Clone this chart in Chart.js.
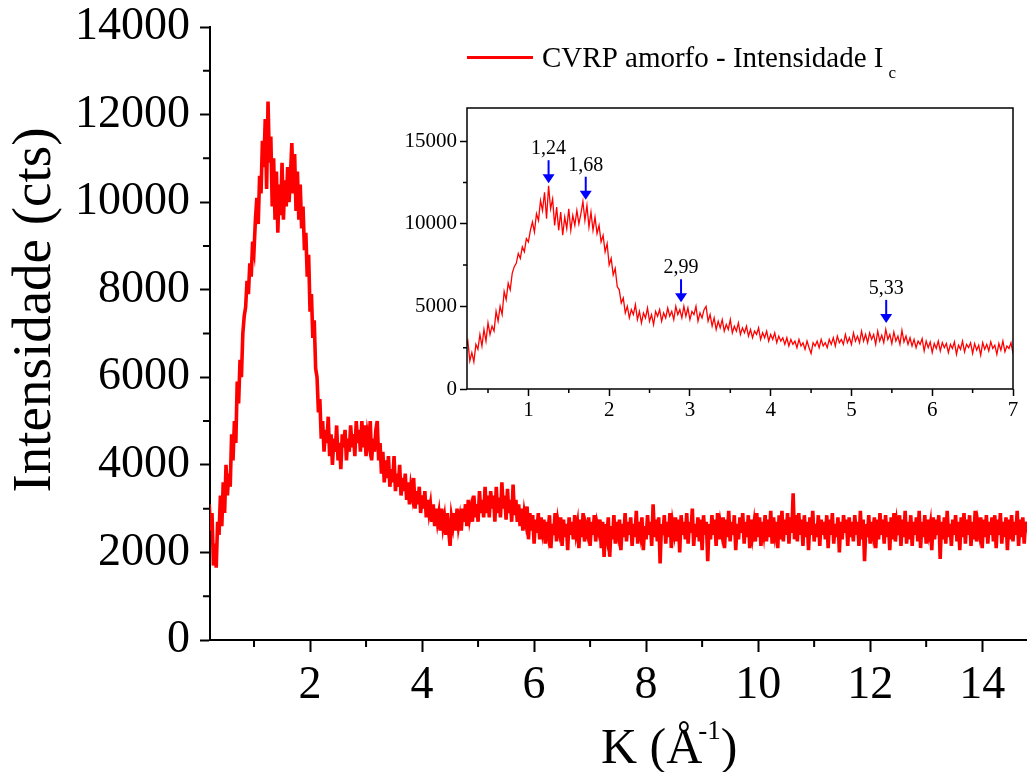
<!DOCTYPE html>
<html>
<head>
<meta charset="utf-8">
<title>CVRP amorfo - Intensidade Ic</title>
<script src="https://cdn.jsdelivr.net/npm/chart.js@4.4.1/dist/chart.umd.min.js"></script>
<style>
  html, body { margin: 0; padding: 0; background: #fff; }
  #wrap { position: relative; width: 1027px; height: 772px; overflow: hidden; }
  #mainChart { position: absolute; left: 0; top: 0; }
  #insetChart { position: absolute; left: 380px; top: 95px; }
</style>
</head>
<body>
<div id="wrap">
  <canvas id="mainChart" width="1027" height="772"></canvas>
  <canvas id="insetChart" width="640" height="330"></canvas>
</div>
<script>
// Intensity readings (cts), one every 0.025 Å^-1 starting at K = 0.200
const kStart = 0.2;
const kStep = 0.025;
const intensity = [
  3100, 2500, 2900, 1700, 2200, 1650, 2700, 2400, 3300, 2600, 3600, 2900, 4000, 3300, 3800, 3500, 4700, 4100, 5000, 4500,           // 0.200
  5900, 5400, 6400, 6000, 7000, 7400, 7600, 8200, 7900, 8600, 8300, 9100, 8900, 9600, 10100, 9500, 10600, 10200, 11400, 10800,     // 0.700
  11900, 10300, 12300, 10900, 11500, 9900, 11000, 9600, 10700, 9300, 10400, 9700, 10900, 9600, 10500, 9900, 10800, 10000, 10600, 11350, // 1.200
  10200, 11100, 9800, 10700, 9600, 10400, 9400, 9900, 8900, 9300, 8300, 8800, 7500, 7900, 6900, 7300, 6200, 6000, 5200, 5500,     // 1.700
  4600, 5000, 4300, 4800, 4500, 5100, 4200, 4700, 4000, 4600, 4300, 4900, 4100, 4500, 3900, 4700, 4400, 4800, 4100, 4600,           // 2.200
  4300, 4900, 4400, 4700, 4200, 5000, 4500, 4800, 4300, 5000, 4400, 4900, 4200, 4700, 4500, 5000, 4100, 4600, 4300, 4800,           // 2.700
  5000, 4100, 4500, 3800, 4300, 3600, 4100, 3700, 4200, 3500, 3900, 3600, 4200, 3400, 3800, 3500, 4000, 3300, 3700, 3400,           // 3.200
  3800, 3200, 3600, 3100, 3500, 3300, 3700, 3000, 3400, 3100, 3500, 2900, 3300, 3000, 3400, 2800, 3200, 2900, 3100, 2700,           // 3.700
  3100, 2600, 3000, 2700, 2900, 2500, 3000, 2600, 2800, 2400, 2900, 2500, 2150, 2800, 2600, 2900, 2500, 3000, 2600, 2800,           // 4.200
  2500, 3000, 2700, 3100, 2600, 3200, 2800, 3000, 2700, 3300, 2800, 3100, 2700, 3400, 2900, 3200, 2800, 3500, 2900, 3300,           // 4.700
  2800, 3400, 3000, 3300, 2700, 3500, 2900, 3250, 2800, 3600, 3000, 3300, 2750, 3450, 2900, 3200, 2700, 3550, 2850, 3200,           // 5.200
  2700, 3100, 2600, 3000, 2500, 2900, 2700, 3050, 2300, 2900, 2500, 2850, 2200, 2750, 2450, 2900, 2300, 2800, 2500, 2750,           // 5.700
  2200, 2700, 2450, 2850, 2100, 2650, 2400, 2900, 2250, 2700, 2500, 2800, 2150, 2750, 2350, 2650, 2050, 2800, 2400, 2700,           // 6.200
  2300, 2850, 2450, 2650, 2100, 2750, 2350, 2900, 2250, 2600, 2450, 2800, 2150, 2700, 2400, 2850, 2250, 2650, 2500, 2750,           // 6.700
  2100, 2700, 1900, 2650, 2400, 2800, 1900, 2600, 2300, 2850, 2200, 2700, 2450, 2750, 2050, 2650, 2350, 2900, 2250, 2700,           // 7.200
  2400, 2800, 2150, 2650, 2350, 2950, 2200, 2700, 2450, 2800, 2050, 2600, 2300, 2850, 2400, 2700, 2150, 3100, 2350, 2750,           // 7.700
  2250, 2800, 1750, 2650, 2400, 2850, 2200, 2700, 2350, 2900, 2100, 2650, 2450, 2800, 2250, 2750, 2000, 2850, 2400, 2700,           // 8.200
  2300, 2900, 2200, 2700, 2450, 3000, 2150, 2650, 2350, 2800, 2250, 2750, 2050, 2850, 2400, 2700, 1800, 2650, 2300, 2850,           // 8.700
  2400, 2750, 2150, 2900, 2300, 2650, 2450, 2800, 2100, 2750, 2350, 2950, 2250, 2700, 2400, 2850, 2050, 2650, 2300, 2800,           // 9.200
  2450, 2900, 2200, 2700, 2350, 2850, 2100, 2750, 2400, 2650, 2250, 2900, 2350, 2800, 2150, 2700, 2450, 2850, 2250, 2750,           // 9.700
  2350, 2950, 2200, 2800, 2450, 2700, 2100, 2850, 2300, 2950, 2250, 2750, 2400, 2900, 2200, 2800, 2450, 3350, 2300, 2850,           // 10.200
  2250, 2900, 2400, 2750, 2150, 2850, 2350, 2700, 2050, 2800, 2400, 2950, 2250, 2650, 2350, 2850, 2150, 2750, 2400, 2700,           // 10.700
  2300, 2850, 2100, 2750, 2400, 2900, 2200, 2650, 2350, 2800, 2000, 2700, 2300, 2850, 2450, 2750, 2150, 2800, 2350, 2700,           // 11.200
  2250, 2850, 2400, 2700, 2150, 2950, 2300, 2750, 1800, 2650, 2350, 2850, 2200, 2700, 2450, 2800, 2100, 2750, 2300, 2900,           // 11.700
  2400, 2750, 2200, 2850, 2350, 2700, 2050, 2800, 2300, 2900, 2250, 2650, 2400, 2850, 2150, 2750, 2350, 2950, 2200, 2700,           // 12.200
  2300, 2850, 2150, 2700, 2400, 2800, 2250, 2950, 2100, 2700, 2350, 2850, 2200, 2750, 2450, 2650, 2050, 2800, 2300, 2750,           // 12.700
  2400, 2850, 1850, 2700, 2300, 2800, 2200, 2950, 2350, 2650, 2150, 2750, 2400, 2850, 2250, 2700, 2050, 2800, 2350, 2900,           // 13.200
  2200, 2750, 2400, 2850, 2150, 2700, 2300, 2950, 2250, 2650, 2450, 2800, 2100, 2750, 2350, 2850, 2200, 2700, 2400, 2800,           // 13.700
  2250, 2850, 2100, 2750, 2400, 2900, 2200, 2700, 2350, 2800, 2050, 2750, 2300, 2850, 2250, 2700, 2400, 2950, 2150, 2750,           // 14.200
  2350, 2800, 2200, 2700, 2450                                                                                                      // 14.700
];

// Peak markers in the inset
const peakK = [1.25, 1.71, 2.89, 5.43];
const peakArrowTip = [12450, 11450, 5250, 4000];
const peakLabels = ['1,24', '1,68', '2,99', '5,33'];

// Axis ticks
const mainXTicks = [2, 4, 6, 8, 10, 12, 14];
const mainXMinor = [1, 3, 5, 7, 9, 11, 13];
const mainYTicks = [0, 2000, 4000, 6000, 8000, 10000, 12000, 14000];
const mainYMinor = [1000, 3000, 5000, 7000, 9000, 11000, 13000];
const insetXTicks = [1, 2, 3, 4, 5, 6, 7];
const insetXMinor = [0.5, 1.5, 2.5, 3.5, 4.5, 5.5, 6.5];
const insetYTicks = [0, 5000, 10000, 15000];
const insetYMinor = [2500, 7500, 12500];

const seriesName = 'CVRP amorfo - Intensidade I';
const seriesSub = 'c';
const yTitle = 'Intensidade (cts)';
const serif = "'Liberation Serif', 'Times New Roman', serif";
const red = '#ff0000';

const points = intensity.map((v, i) => ({ x: +(kStart + i * kStep).toFixed(3), y: v }));

const minorTicks = (xs, ys, len, width) => ({
  id: 'minorTicks',
  afterDraw(chart) {
    const { ctx, chartArea: a, scales } = chart;
    ctx.save();
    ctx.strokeStyle = '#000';
    ctx.lineWidth = width;
    ctx.beginPath();
    xs.forEach(v => {
      const px = scales.x.getPixelForValue(v);
      ctx.moveTo(px, a.bottom);
      ctx.lineTo(px, a.bottom + len);
    });
    ys.forEach(v => {
      const py = scales.y.getPixelForValue(v);
      ctx.moveTo(a.left, py);
      ctx.lineTo(a.left - len, py);
    });
    ctx.stroke();
    ctx.restore();
  }
});

const mainDecor = {
  id: 'mainDecor',
  afterDraw(chart) {
    const ctx = chart.ctx;
    ctx.save();
    ctx.fillStyle = '#000';

    // y title
    ctx.save();
    ctx.translate(36, 310);
    ctx.rotate(-Math.PI / 2);
    ctx.font = '55px ' + serif;
    ctx.textAlign = 'center';
    ctx.textBaseline = 'middle';
    ctx.fillText(yTitle, 0, 0);
    ctx.restore();

    // x title with superscript
    ctx.textAlign = 'left';
    ctx.textBaseline = 'alphabetic';
    let x = 601;
    const base = 763;
    ctx.font = '50px ' + serif;
    ctx.fillText('K (Å', x, base);
    x += ctx.measureText('K (Å').width - 4;
    ctx.font = '27px ' + serif;
    ctx.fillText('-1', x, base - 24);
    x += ctx.measureText('-1').width;
    ctx.font = '50px ' + serif;
    ctx.fillText(')', x, base);

    // legend
    ctx.strokeStyle = red;
    ctx.lineWidth = 3;
    ctx.beginPath();
    ctx.moveTo(467, 57.5);
    ctx.lineTo(533, 57.5);
    ctx.stroke();
    ctx.font = '29px ' + serif;
    ctx.fillText(seriesName, 542, 67);
    const w = ctx.measureText(seriesName).width;
    ctx.font = '17px ' + serif;
    ctx.fillText(seriesSub, 542 + w + 5, 78);
    ctx.restore();
  }
};

const insetDecor = {
  id: 'insetDecor',
  afterDatasetsDraw(chart) {
    const { ctx, chartArea: a, scales: { x, y } } = chart;
    ctx.save();
    ctx.strokeStyle = '#000';
    ctx.lineWidth = 1.5;
    ctx.strokeRect(a.left, a.top, a.right - a.left, a.bottom - a.top);

    ctx.font = '20px ' + serif;
    ctx.textAlign = 'center';
    ctx.textBaseline = 'alphabetic';
    peakK.forEach((k, i) => {
      const px = x.getPixelForValue(k);
      const tip = y.getPixelForValue(peakArrowTip[i]);
      const top = tip - 23;
      ctx.strokeStyle = '#0000ff';
      ctx.fillStyle = '#0000ff';
      ctx.lineWidth = 2;
      ctx.beginPath();
      ctx.moveTo(px, top);
      ctx.lineTo(px, tip - 8);
      ctx.stroke();
      ctx.beginPath();
      ctx.moveTo(px - 6, tip - 9);
      ctx.lineTo(px + 6, tip - 9);
      ctx.lineTo(px, tip);
      ctx.closePath();
      ctx.fill();
      ctx.fillStyle = '#000';
      ctx.fillText(peakLabels[i], px, top - 6);
    });
    ctx.restore();
  }
};

// no automatic label overflow padding: the plot area is placed by hand
const noPad = s => { s.paddingTop = 0; s.paddingBottom = 0; s.paddingLeft = 0; s.paddingRight = 0; };

const axisOpts = (min, max, ticks, fontSize, tickLen, tickW, pad, size) => ({
  type: 'linear',
  min: min,
  max: max,
  afterBuildTicks: s => { s.ticks = ticks.map(v => ({ value: v })); },
  afterFit: s => {
    if (s.isHorizontal()) s.height = size; else s.width = size;
    noPad(s);
  },
  grid: { drawOnChartArea: false, drawTicks: true, tickLength: tickLen, tickWidth: tickW, tickColor: '#000' },
  border: { display: false },
  ticks: {
    color: '#000',
    font: { family: serif, size: fontSize },
    padding: pad,
    autoSkip: false,
    maxRotation: 0,
    callback: v => String(v)
  }
});

new Chart(document.getElementById('mainChart'), {
  type: 'line',
  data: {
    datasets: [{
      data: points,
      borderColor: red,
      borderWidth: 3.6,
      pointRadius: 0,
      tension: 0,
      fill: false
    }]
  },
  options: {
    responsive: false,
    animation: false,
    events: [],
    layout: { padding: { top: 27, right: 0, left: 0, bottom: 0 } },
    plugins: { legend: { display: false }, tooltip: { enabled: false } },
    scales: {
      x: Object.assign(axisOpts(0.214, 14.8, mainXTicks, 46, 12, 2, 6, 132),
        { border: { display: true, color: '#000', width: 2 } }),
      y: Object.assign(axisOpts(0, 14000, mainYTicks, 46, 10, 2, 10, 210),
        { border: { display: true, color: '#000', width: 2 } })
    }
  },
  plugins: [minorTicks(mainXMinor, mainYMinor, 7, 2), mainDecor]
});

new Chart(document.getElementById('insetChart'), {
  type: 'line',
  data: {
    datasets: [{
      data: points,
      borderColor: red,
      borderWidth: 1.3,
      pointRadius: 0,
      tension: 0,
      fill: false
    }]
  },
  options: {
    responsive: false,
    animation: false,
    events: [],
    layout: { padding: { top: 13, right: 7, left: 0, bottom: 0 } },
    plugins: { legend: { display: false }, tooltip: { enabled: false } },
    scales: {
      x: axisOpts(0.24, 7, insetXTicks, 21, 7, 1.5, 2, 36),
      y: axisOpts(0, 17000, insetYTicks, 21, 7, 1.5, 3, 87)
    }
  },
  plugins: [minorTicks(insetXMinor, insetYMinor, 4, 1.5), insetDecor]
});
</script>
</body>
</html>
